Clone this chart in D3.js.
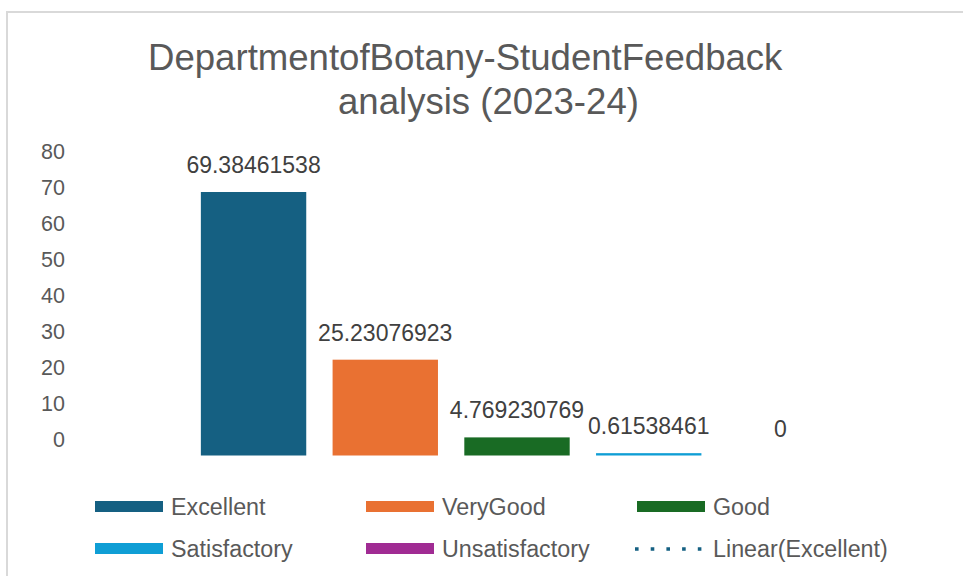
<!DOCTYPE html>
<html>
<head>
<meta charset="utf-8">
<script src="https://cdn.jsdelivr.net/npm/d3@7"></script>
<style>
  html, body { margin: 0; padding: 0; background: #ffffff; }
  svg { display: block; font-family: "Liberation Sans", Arial, Helvetica, sans-serif; }
</style>
</head>
<body>
<svg id="chart" width="963" height="576"></svg>
<script>
// Feedback categories and their share of responses (%)
const categories = ["Excellent", "VeryGood", "Good", "Satisfactory", "Unsatisfactory"];
const percentages = [69.38461538, 25.23076923, 4.769230769, 0.61538461, 0];
const valueLabels = ["69.38461538", "25.23076923", "4.769230769", "0.61538461", "0"];
const yTicks = [0, 10, 20, 30, 40, 50, 60, 70, 80];
const legendItems = ["Excellent", "VeryGood", "Good", "Satisfactory", "Unsatisfactory", "Linear(Excellent)"];
const titleLines = ["DepartmentofBotany-StudentFeedback", "analysis (2023-24)"];

const colors = {
  Excellent: "#156082",
  VeryGood: "#E97132",
  Good: "#196B24",
  Satisfactory: "#0F9ED5",
  Unsatisfactory: "#A02B93"
};

const svg = d3.select("#chart");

// Frame lines (top and left edge of the chart area)
svg.append("line").attr("x1", 6).attr("x2", 963).attr("y1", 12).attr("y2", 12)
  .attr("stroke", "#d9d9d9").attr("stroke-width", 2);
svg.append("line").attr("x1", 7).attr("x2", 7).attr("y1", 11).attr("y2", 576)
  .attr("stroke", "#d9d9d9").attr("stroke-width", 2);

// Title
const titlePos = [{ x: 148, y: 70 }, { x: 338, y: 114 }];
svg.append("g").selectAll("text").data(titleLines).join("text")
  .attr("x", (d, i) => titlePos[i].x)
  .attr("y", (d, i) => titlePos[i].y)
  .attr("font-size", 36.6)
  .attr("fill", "#595959")
  .text(d => d);

// Scales
const x = d3.scaleBand().domain(categories).range([135, 899]).paddingInner(0.2).paddingOuter(0.5);
const y = d3.scaleLinear().domain([0, 80]).range([455.5, 151.7]);
// Tick labels sit on their own slightly compressed scale
const tickY = d3.scaleLinear().domain([0, 80]).range([440, 152]);

// Y axis labels
const yAxis = svg.append("g").attr("transform", "translate(65,0)")
  .call(d3.axisLeft(tickY).tickValues(yTicks).tickSize(0).tickPadding(0).tickFormat(d3.format("d")));
yAxis.select(".domain").remove();
yAxis.selectAll("text")
  .attr("font-size", 21.5)
  .attr("font-family", "Liberation Sans, Arial, sans-serif")
  .attr("fill", "#595959");

// Bars
svg.append("g").selectAll("rect").data(categories).join("rect")
  .attr("x", d => x(d))
  .attr("width", x.bandwidth())
  .attr("y", (d, i) => y(percentages[i]))
  .attr("height", (d, i) => y(0) - y(percentages[i]))
  .attr("fill", d => colors[d]);

// Value labels
svg.append("g").selectAll("text").data(categories).join("text")
  .attr("x", d => x(d) + x.bandwidth() / 2)
  .attr("y", (d, i) => y(percentages[i]) - 19)
  .attr("text-anchor", "middle")
  .attr("font-size", 23)
  .attr("fill", "#404040")
  .text((d, i) => valueLabels[i]);

// Legend: three columns, two rows
const legend = svg.append("g");
const colX = [95, 366, 637];
const rowY = [506.5, 548.5];
const swatchW = 68;
legendItems.forEach((name, i) => {
  const lx = colX[i % 3];
  const ly = rowY[Math.floor(i / 3)];
  if (name.startsWith("Linear")) {
    legend.append("line")
      .attr("x1", lx - 2).attr("x2", lx + swatchW)
      .attr("y1", ly + 0.5).attr("y2", ly + 0.5)
      .attr("stroke", colors.Excellent)
      .attr("stroke-width", 3.6)
      .attr("stroke-dasharray", "3.6,12.1");
  } else {
    legend.append("rect")
      .attr("x", lx).attr("y", ly - 5.5)
      .attr("width", swatchW).attr("height", 11)
      .attr("fill", colors[name]);
  }
  legend.append("text")
    .attr("x", lx + 76)
    .attr("y", ly + 8)
    .attr("font-size", 23.3)
    .attr("fill", "#595959")
    .text(name);
});
</script>
</body>
</html>
